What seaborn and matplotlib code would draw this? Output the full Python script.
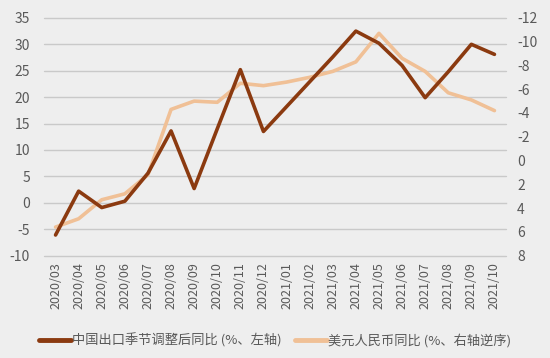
import numpy as np
import pandas as pd
import matplotlib.pyplot as plt
import seaborn as sns

months = ["2020/03", "2020/04", "2020/05", "2020/06", "2020/07", "2020/08", "2020/09",
          "2020/10", "2020/11", "2020/12", "2021/01", "2021/02", "2021/03", "2021/04",
          "2021/05", "2021/06", "2021/07", "2021/08", "2021/09", "2021/10"]
# China exports, seasonally adjusted YoY (%, left axis)
exports_yoy = [-6.1, 2.2, -0.9, 0.3, 5.6, 13.6, 2.7, 14.0, 25.2, 13.5,
               18.2, 22.9, 27.6, 32.5, 30.2, 26.0, 19.9, 24.8, 30.0, 28.1]
# USD/CNY YoY (%, right axis reversed)
usdcny_yoy = [5.6, 4.9, 3.3, 2.8, 1.2, -4.3, -5.0, -4.9, -6.5, -6.3,
              -6.6, -7.0, -7.5, -8.3, -10.7, -8.6, -7.5, -5.7, -5.1, -4.2]

brown = "#8b3a10"
peach = "#f0c096"
bg = "#eeeeee"
grid_c = "#c9c9c9"
text_c = "#595959"

sns.set_style("white")
plt.rcParams['font.family'] = ['Noto Sans CJK SC', 'DejaVu Sans']
plt.rcParams['axes.unicode_minus'] = False

df = pd.DataFrame({"x": np.arange(len(months)), "exports": exports_yoy, "fx": usdcny_yoy})

fig = plt.figure(figsize=(5.5, 3.58), dpi=100, facecolor=bg)
ax = fig.add_axes([0.08, 0.286, 0.84, 0.664])
ax.set_facecolor(bg)
ax2 = ax.twinx()

sns.lineplot(data=df, x="x", y="exports", ax=ax, color=brown, linewidth=2.6, zorder=3)
sns.lineplot(data=df, x="x", y="fx", ax=ax2, color=peach, linewidth=2.6, zorder=2)
ax.set_zorder(ax2.get_zorder() + 1)
ax.patch.set_visible(False)
ax2.patch.set_visible(True)
ax2.patch.set_facecolor(bg)

ax.set_xlim(-0.5, len(months) - 0.5)
ax.set_ylim(-10, 35)
ax.set_yticks(np.arange(-10, 36, 5))
ax2.set_ylim(8, -12)
ax2.set_yticks(np.arange(-12, 9, 2))

for a in (ax, ax2):
    for s in a.spines.values():
        s.set_visible(False)
    a.set_xlabel("")
    a.set_ylabel("")

# grid lines drawn on the back axis
for v in np.arange(-10, 36, 5):
    if v == 0:
        continue
    ax2.axhline(-12 + (35 - v) * 20 / 45, color=grid_c, linewidth=1, zorder=0, clip_on=False)

# x axis line at zero with boundary ticks
ax.spines['bottom'].set_visible(True)
ax.spines['bottom'].set_position(('data', 0))
ax.spines['bottom'].set_color(grid_c)
ax.spines['bottom'].set_linewidth(1)
ax.set_xticks(np.arange(-0.5, len(months), 1))
ax.tick_params(axis='x', length=5, width=1, color=grid_c, labelbottom=False, direction='out')

sec = ax.secondary_xaxis('bottom')
sec.set_xticks(np.arange(len(months)), labels=months)
sec.tick_params(axis='x', length=0, pad=5, labelsize=9, labelcolor=text_c, rotation=90)
sec.spines['bottom'].set_visible(False)

ax.tick_params(axis='y', length=0, labelsize=10, labelcolor=text_c, pad=10)
ax2.tick_params(axis='y', length=0, labelsize=10, labelcolor=text_c, pad=8)

handles = [plt.Line2D([], [], color=brown, linewidth=3.5),
           plt.Line2D([], [], color=peach, linewidth=3.5)]
labels = ["中国出口季节调整后同比 (%、左轴)", "美元人民币同比 (%、右轴逆序)"]
fig.legend(handles, labels, loc='center', bbox_to_anchor=(0.5, 0.05), ncol=2,
           frameon=False, fontsize=9.5, handlelength=2.4, handletextpad=0.1,
           columnspacing=1.0, labelcolor=text_c)

fig.savefig("out.png", dpi=100, facecolor=bg)
